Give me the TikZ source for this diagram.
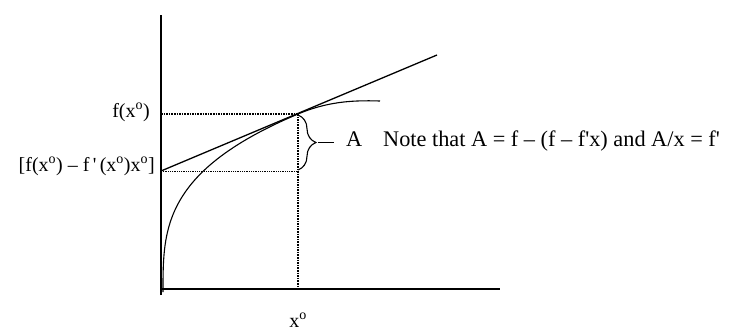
\documentclass[tikz,border=0pt]{standalone}
\usepackage{fontspec}
\setmainfont{Liberation Serif}
\usetikzlibrary{decorations.pathreplacing}
\newcommand{\xo}{x\textsuperscript{o}}
\newcommand{\fp}{f\,\textquotesingle\,}
\tikzset{
  axl/.style={line width=1.4pt},
  crv/.style={line width=1.1pt},
  tng/.style={line width=1.3pt},
  gd/.style={densely dotted, line width=1.6pt},
  gdt/.style={densely dotted, line width=0.8pt},
  brc/.style={line width=1.1pt, decorate, decoration={brace, amplitude=18pt}},
  lbl/.style={font=\fontsize{20}{24}\selectfont, inner sep=0pt},
  nlbl/.style={font=\fontsize{22.3}{26}\selectfont, inner sep=0pt, anchor=base west},
}
\begin{document}
\begin{tikzpicture}[x=1pt, y=-1pt]
  \useasboundingbox (0,0) rectangle (729,330);
  % axes
  \coordinate (ytop) at (161,15);
  \coordinate (ybot) at (161,295);
  \coordinate (O) at (161,289);
  \coordinate (xend) at (500,289);
  \draw[axl] (ybot) -- (ytop);
  \draw[axl] (O) -- (xend);
  % tangent line
  \coordinate (tA) at (161,171);
  \coordinate (tB) at (437,55);
  \coordinate (T) at (298,114);
  \coordinate (Tx) at (298,289);
  \coordinate (Ty) at (161,114);
  \coordinate (Tl) at (298,171);
  \draw[tng] (tA) -- (tB);
  % curve
  \draw[crv] plot[domain=0:1, samples=60]
      ({163+135*\x*\x*\x*sqrt(sqrt(sqrt(\x)))}, {292-178*\x})
      .. controls (326,102.2) and (350,100) .. (380,101);
  % guides
  \draw[gd] (Ty) -- (T);
  \draw[gd] (T) -- (Tx);
  \draw[gdt] (tA) -- (Tl);
  % brace
  \draw[brc] (298,115) -- (298,170);
  \coordinate (bt) at (318,142.5);
  \coordinate (be) at (334,142.5);
  \draw[line width=1.1pt] (bt) -- (be);
  % labels
  \node[lbl, anchor=base east] (fx) at (150,117) {f(\xo)};
  \node[lbl, anchor=base east] (fl) at (155,171) {[f(\xo) -- \fp(\xo)\xo]};
  \node[lbl, anchor=base] (xo) at (298,327) {\xo};
  \node[nlbl] (A) at (346,146) {A};
  \node[nlbl] (nt) at (383,146)
      {Note that A = f -- (f -- f\textquotesingle x) and A/x = f\textquotesingle};
\end{tikzpicture}
\end{document}
